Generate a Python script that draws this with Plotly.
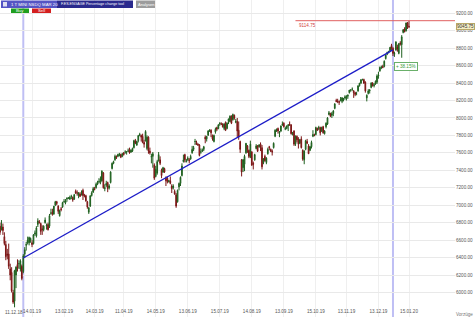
import pandas as pd
import plotly.graph_objects as go

# ---------------- data ----------------
holidays = ['2018-12-25', '2019-01-01', '2019-04-19', '2019-12-25', '2020-01-01']
dates = [d for d in pd.bdate_range('2018-12-11', '2020-01-15') if d.strftime('%Y-%m-%d') not in holidays]

opens = [
    6760,6730,6750,6640,6550,6440,6440,6270,6230,6000,5900,6200,6320,6330,
    6270,6300,6240,6440,6540,6570,6570,6600,6570,6560,6670,6650,6780,6810,6790,6730,6720,6800,6760,6780,6760,6910,
    6920,6900,7000,7040,6990,6880,6960,6980,7040,7030,7070,7080,7070,7100,7090,7070,7160,7140,7110,7130,
    7150,7170,7110,7110,7040,6920,6990,7110,7150,7190,7200,7240,7270,7260,7280,7370,7190,7230,7260,7200,7260,
    7420,7480,7520,7560,7560,7570,7580,7560,7600,7610,7610,7620,7640,7610,7620,7660,7740,7690,7740,7800,7800,
    7790,7720,7740,7650,7780,7620,7550,7560,7460,7330,7370,7510,7520,7400,7380,7420,7310,7310,7270,7280,7220,7200,7160,
    7120,7040,7210,7250,7340,7500,7580,7500,7520,7520,7530,7600,7640,7730,7720,7700,7690,7610,7620,7640,
    7780,7760,7800,7850,7860,7800,7730,7840,7890,7880,7930,7930,7930,7880,7950,7880,7960,7960,8020,7980,8030,7950,7960,
    7860,7730,7520,7430,7470,7600,7680,7630,7550,7610,7480,7520,7650,7680,7670,7700,7660,7490,7560,7490,7590,7670,
    7640,7620,7660,7790,7860,7880,7830,7850,7920,7940,7870,7880,7910,7930,7920,7810,7850,7700,7790,7760,7710,
    7760,7630,7520,7640,7730,7680,7630,7670,7790,7800,7810,7880,7880,7890,7850,7900,7820,7900,7930,8040,8050,8030,8050,
    8110,8200,8190,8190,8200,8190,8210,8230,8220,8250,8290,8320,8330,8310,8290,8280,8310,8370,8400,8440,8440,
    8410,8230,8280,8310,8350,8400,8370,8390,8410,8480,8540,8580,8590,8590,8680,8730,8750,8770,8830,8800,8730,
    8780,8810,8740,8860,8840,8980,9020,9000,9090,9050,
]
highs = [
    6800,6830,6790,6690,6590,6500,6560,6330,6290,6030,6260,6300,6380,6370,
    6380,6320,6440,6520,6580,6640,6640,6630,6600,6670,6710,6760,6850,6830,6800,6770,6770,6860,6790,6800,6900,6960,
    6960,6990,7050,7050,7000,6950,6980,7040,7070,7070,7090,7090,7110,7120,7100,7130,7180,7170,7150,7150,
    7170,7190,7130,7120,7050,6980,7110,7160,7210,7210,7260,7280,7310,7330,7400,7380,7240,7280,7270,7240,7390,
    7490,7510,7580,7570,7590,7600,7590,7600,7610,7630,7620,7650,7660,7640,7660,7750,7760,7740,7800,7830,7810,
    7820,7750,7860,7800,7790,7660,7590,7610,7480,7450,7520,7610,7560,7420,7440,7430,7330,7330,7290,7330,7240,7240,7180,
    7140,7180,7260,7330,7480,7580,7590,7530,7560,7540,7580,7680,7680,7760,7740,7710,7700,7650,7650,7680,
    7800,7790,7860,7870,7870,7810,7810,7890,7900,7930,7950,7950,7940,7940,7960,7950,7990,8030,8030,8050,8040,7990,8000,
    7960,7740,7530,7530,7580,7710,7690,7640,7740,7620,7500,7590,7700,7690,7700,7720,7690,7540,7580,7550,7660,7680,
    7650,7640,7720,7870,7880,7890,7850,7910,7960,7950,7900,7910,7930,7960,7930,7840,7860,7800,7800,7780,7760,
    7790,7640,7630,7750,7760,7700,7680,7740,7860,7820,7900,7890,7910,7900,7900,7910,7860,7950,8010,8080,8060,8070,8090,
    8170,8220,8220,8200,8240,8240,8230,8260,8260,8270,8320,8330,8350,8320,8300,8300,8370,8400,8440,8450,8450,
    8420,8270,8330,8330,8410,8410,8400,8430,8500,8530,8590,8600,8610,8660,8730,8760,8770,8810,8850,8810,8760,
    8880,8840,8860,8880,8950,9020,9040,9090,9100,9114.75,
]
lows = [
    6660,6710,6660,6540,6370,6380,6270,6140,6000,5870,5830,6050,6240,6270,
    6240,6140,6220,6400,6480,6550,6540,6570,6520,6550,6650,6630,6750,6790,6660,6660,6700,6790,6720,6710,6740,6890,
    6880,6890,6990,7000,6900,6870,6930,6970,7030,7010,7040,7070,7060,7070,7040,7060,7130,7110,7080,7100,
    7110,7060,7090,7040,6960,6900,6980,7100,7140,7170,7190,7230,7250,7240,7270,7190,7160,7210,7150,7180,7250,
    7410,7470,7510,7530,7550,7560,7540,7550,7570,7590,7580,7610,7590,7600,7610,7650,7700,7680,7720,7790,7730,
    7710,7660,7730,7630,7590,7580,7480,7430,7290,7320,7350,7500,7460,7310,7370,7370,7220,7250,7260,7240,7140,7180,7120,
    6970,7030,7170,7220,7330,7490,7490,7490,7510,7480,7520,7590,7620,7690,7690,7680,7560,7590,7610,7620,
    7710,7730,7800,7840,7780,7740,7720,7820,7850,7870,7910,7920,7890,7860,7850,7870,7930,7950,7930,7970,7980,7940,7780,
    7750,7600,7330,7380,7390,7590,7600,7540,7540,7450,7410,7510,7640,7610,7660,7620,7410,7470,7500,7470,7580,7630,
    7610,7570,7650,7780,7840,7820,7780,7840,7910,7890,7860,7870,7850,7910,7810,7800,7680,7680,7720,7650,7700,
    7650,7510,7470,7630,7700,7590,7620,7650,7780,7790,7800,7850,7860,7800,7840,7820,7810,7880,7920,8030,8010,8000,8020,
    8100,8180,8170,8150,8190,8170,8190,8210,8200,8220,8280,8300,8310,8230,8250,8260,8300,8360,8390,8430,8390,
    8290,8190,8270,8280,8340,8360,8350,8380,8390,8450,8530,8560,8570,8580,8670,8720,8740,8760,8780,8710,8700,
    8770,8760,8730,8830,8690,8970,8980,8990,9020,9030,
]
closes = [
    6690,6740,6710,6560,6410,6430,6300,6200,6020,5890,6250,6290,6280,6330,
    6360,6160,6420,6490,6550,6600,6630,6620,6550,6660,6680,6740,6820,6800,6700,6720,6760,6830,6770,6720,6880,6910,
    6900,6990,7040,7020,6930,6940,6950,7030,7040,7050,7080,7085,7090,7100,7060,7120,7140,7140,7140,7100,
    7150,7110,7110,7050,6980,6970,7110,7140,7190,7180,7240,7260,7270,7300,7390,7200,7200,7250,7190,7220,7380,
    7480,7500,7560,7550,7580,7590,7550,7590,7580,7610,7610,7620,7600,7630,7650,7740,7710,7730,7800,7810,7780,
    7720,7700,7845,7780,7620,7600,7560,7590,7310,7410,7500,7580,7480,7340,7430,7380,7280,7270,7280,7250,7190,7220,7130,
    6990,7170,7250,7320,7450,7520,7520,7510,7540,7510,7560,7640,7660,7730,7700,7690,7570,7610,7630,7670,
    7760,7790,7850,7860,7830,7760,7800,7870,7870,7920,7940,7930,7900,7930,7860,7940,7990,8020,7940,8040,8000,7960,7850,
    7780,7640,7380,7520,7560,7710,7640,7560,7700,7460,7470,7580,7680,7620,7690,7660,7440,7530,7510,7540,7640,7660,
    7620,7610,7710,7860,7860,7850,7840,7910,7930,7900,7880,7910,7920,7920,7820,7820,7700,7790,7750,7700,7750,
    7660,7530,7620,7740,7710,7590,7670,7720,7810,7800,7890,7860,7890,7830,7890,7830,7850,7940,8000,8060,8020,8050,8080,
    8160,8190,8190,8180,8210,8230,8220,8240,8250,8260,8320,8320,8330,8290,8270,8280,8370,8400,8440,8440,8400,
    8310,8260,8310,8320,8400,8370,8380,8420,8480,8490,8580,8580,8580,8650,8720,8750,8760,8810,8800,8740,8740,
    8870,8790,8850,8850,8930,9010,8990,9090,9050,9045.75,
]

tick_labels = ['11.12.18', '14.01.19', '13.02.19', '14.03.19', '11.04.19', '14.05.19', '13.06.19',
               '15.07.19', '14.08.19', '13.09.19', '15.10.19', '13.11.19', '13.12.19', '15.01.20']
price_ticks = list(range(5800, 9201, 200))

# percentage-change tool: start / end dates and prices
tool_dates = ['2019-01-04', '2019-12-30']
tool_prices = [6395, 8780]
tool_text = '+ 38.15%'
high_line_price = 9114.75
high_line_start = '2019-09-25'
last_price = closes[-1]

assert len(opens) == len(highs) == len(lows) == len(closes) == len(dates), (len(opens), len(highs), len(lows), len(closes), len(dates))

# ---------------- figure ----------------
W, H = 475, 317
PLOT_W = 455
FONT = 'Liberation Sans Narrow, Liberation Sans, Arial, sans-serif'
date_str = [d.strftime('%Y-%m-%d') for d in dates]
idx = {s: i for i, s in enumerate(date_str)}
x = list(range(len(dates)))

def lbl_idx(s):
    return idx[pd.to_datetime(s, format='%d.%m.%y').strftime('%Y-%m-%d')]

tickvals = [lbl_idx(s) for s in tick_labels[1:]]

def px(v):
    return v / PLOT_W

def py(v):
    return 1 - v / H

fig = go.Figure()
fig.add_trace(go.Candlestick(
    x=x, open=opens, high=highs, low=lows, close=closes,
    increasing=dict(line=dict(color='#1f5f1f', width=1), fillcolor='#3c9a3c'),
    decreasing=dict(line=dict(color='#7a1515', width=1), fillcolor='#d03a3a'),
    whiskerwidth=0, showlegend=False, hoverinfo='skip',
))

shapes = []
# lavender vertical lines of the tool
for d in tool_dates:
    shapes.append(dict(type='line', xref='x', yref='paper', x0=idx[d], x1=idx[d], y0=0, y1=1,
                       line=dict(color='rgba(170,170,240,0.75)', width=2), layer='below'))
# trend line
shapes.append(dict(type='line', xref='x', yref='y', x0=idx[tool_dates[0]], y0=tool_prices[0],
                   x1=idx[tool_dates[1]], y1=tool_prices[1], line=dict(color='#1c1cc8', width=1.3)))
# high line
shapes.append(dict(type='line', xref='x', yref='y', x0=idx[high_line_start], x1=x[-1] + 33,
                   y0=high_line_price, y1=high_line_price, line=dict(color='#e06060', width=1)))
# toolbar
shapes += [
    dict(type='rect', xref='paper', yref='paper', x0=px(1), x1=px(57), y0=py(8), y1=py(0.5),
         fillcolor='#5555c4', line=dict(width=0)),
    dict(type='rect', xref='paper', yref='paper', x0=px(57), x1=px(133), y0=py(8), y1=py(0.5),
         fillcolor='#2a2a8e', line=dict(width=0)),
    dict(type='rect', xref='paper', yref='paper', x0=px(3), x1=px(7), y0=py(6.5), y1=py(2),
         fillcolor='#e0e0f0', line=dict(width=0)),
    dict(type='rect', xref='paper', yref='paper', x0=px(136), x1=px(155), y0=py(8), y1=py(0.5),
         fillcolor='#9c9c9c', line=dict(width=0)),
    dict(type='rect', xref='paper', yref='paper', x0=px(11), x1=px(29), y0=py(13), y1=py(8.5),
         fillcolor='#1f9e1f', line=dict(width=0)),
    dict(type='rect', xref='paper', yref='paper', x0=px(32), x1=px(51), y0=py(13), y1=py(8.5),
         fillcolor='#d41f1f', line=dict(width=0)),
]

ann = []
def txt(t, xx, yy, size=4.6, color='white', xanchor='left', **kw):
    ann.append(dict(text=t, x=xx, y=yy, xref=kw.pop('xref', 'paper'), yref=kw.pop('yref', 'paper'),
                    xanchor=xanchor, yanchor=kw.pop('yanchor', 'middle'), showarrow=False,
                    font=dict(family=FONT, size=size, color=color), **kw))

txt('1 T MINI NSDQ MAR 20', px(9), py(4.3), size=4.3)
txt('F.ES.ENGAGE Percentage change tool', px(59), py(4.3), size=3.6)
txt('Analysen', px(145.5), py(4.3), xanchor='center', size=4.0)
txt('Buy', px(20), py(10.8), xanchor='center', size=4.3)
txt('Sell', px(41.5), py(10.8), xanchor='center', size=4.3)
txt(tick_labels[0], px(3), py(312.5), color='#555555')
txt('Vorzüge', px(465), py(314), color='#777777', xanchor='center')
# tool label
ann.append(dict(text=tool_text, x=idx[tool_dates[1]] + 0.8, y=8585, xref='x', yref='y', xanchor='left',
                yanchor='middle', showarrow=False, bgcolor='white', bordercolor='#6ab06a', borderwidth=1,
                borderpad=1, font=dict(family=FONT, size=4.6, color='#3a9a3a')))
# high line label
ann.append(dict(text=f'{high_line_price:.2f}', x=idx[high_line_start] + 1, y=high_line_price, xref='x', yref='y',
                xanchor='left', yanchor='top', showarrow=False,
                font=dict(family=FONT, size=4.6, color='#d04040')))
# last price box
ann.append(dict(text=f'{last_price:.2f}', x=px(456), y=last_price, xref='paper', yref='y', xanchor='left',
                yanchor='middle', showarrow=False, bgcolor='#f3edc4', bordercolor='#b8a868', borderwidth=1,
                borderpad=0, font=dict(family=FONT, size=4.6, color='#333333')))

fig.update_layout(
    width=W, height=H, margin=dict(l=0, r=W - PLOT_W, t=0, b=0),
    paper_bgcolor='white', plot_bgcolor='white',
    shapes=shapes, annotations=ann,
    xaxis=dict(range=[0.0, 312.6], tickvals=tickvals, ticktext=tick_labels[1:], ticklabelposition='inside',
               showgrid=True, gridcolor='#efefef', gridwidth=1, zeroline=False, showline=False, ticks='',
               tickfont=dict(family=FONT, size=4.6, color='#555555'), rangeslider=dict(visible=False),
               fixedrange=True, automargin=False),
    yaxis=dict(range=[5719, 9352], side='right', tickvals=price_ticks, tickformat='.2f',
               showgrid=True, gridcolor='#e9e9e9', gridwidth=1, zeroline=False, showline=False, ticks='',
               tickfont=dict(family=FONT, size=4.6, color='#555555'), automargin=False, fixedrange=True),
    hovermode=False,
)

fig.write_html('out.html')
